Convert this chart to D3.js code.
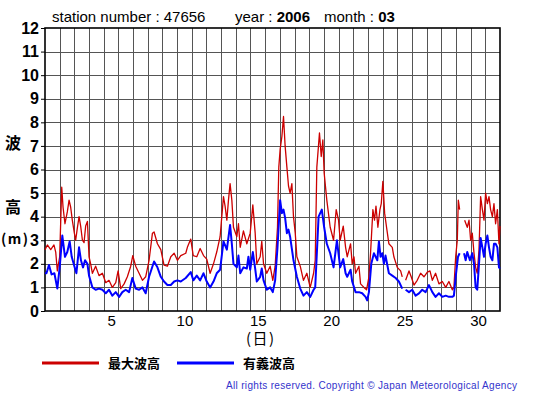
<!DOCTYPE html>
<html lang="ja">
<head>
<meta charset="UTF-8">
<title>波高 47656 2006-03</title>
<script src="https://unpkg.com/d3@7/dist/d3.min.js"></script>
<style>
  body { margin: 0; background: #fff; }
  text { font-family: "Liberation Sans", Arial, sans-serif; }
  .jp { font-family: "Noto Sans CJK JP", sans-serif; }
</style>
</head>
<body>
<script>
// [day of month (0 = start of the 1st), height m] ; null = missing
var maxWave = [
  [0.0,2.6],[0.16,2.8],[0.39,2.6],[0.61,2.8],[0.73,2.5],[0.84,1.7],[1.0,2.3],[1.14,5.25],[1.23,4.4],
  [1.36,3.7],[1.52,4.2],[1.64,4.7],[1.75,4.4],[1.86,3.85],[2.0,3.3],[2.09,3.0],[2.2,3.5],[2.32,4.0],
  [2.43,3.6],[2.55,3.0],[2.66,2.9],[2.77,3.6],[2.89,3.8],[3.0,2.3],[3.11,2.0],[3.23,1.6],[3.45,1.9],
  [3.68,1.5],[3.91,1.6],[4.14,1.2],[4.36,1.3],[4.59,1.0],[4.82,1.2],[4.98,1.7],[5.16,0.95],[5.39,1.15],
  [5.61,1.45],[5.84,1.9],[5.98,2.35],[6.18,1.9],[6.41,1.6],[6.64,1.3],[6.86,1.45],[7.09,2.15],[7.32,3.3],
  [7.43,3.35],[7.66,2.85],[7.89,2.6],[8.11,1.95],[8.34,1.9],[8.57,2.3],[8.8,2.45],[9.02,2.15],[9.25,2.35],
  [9.59,2.45],[9.7,2.7],[9.93,3.05],[10.1,2.35],[10.34,2.3],[10.57,2.65],[10.8,2.35],[11.02,2.2],
  [11.25,1.6],[11.48,2.0],[11.7,2.5],[11.93,3.15],[12.16,4.85],[12.27,4.45],[12.39,3.85],[12.5,4.7],
  [12.61,5.4],[12.73,4.7],[12.84,3.55],[13.07,3.15],[13.18,3.7],[13.3,2.7],[13.52,3.4],[13.75,2.85],
  [13.98,3.3],[14.16,4.5],[14.32,3.3],[14.43,2.0],[14.66,2.3],[14.77,2.95],[14.89,2.0],[15.11,1.6],
  [15.34,1.9],[15.52,1.3],[15.68,1.9],[15.84,3.55],[15.93,6.1],[16.02,6.85],[16.14,7.4],[16.25,8.25],
  [16.36,7.0],[16.48,6.1],[16.59,5.3],[16.7,5.0],[16.82,5.4],[16.93,4.0],[17.05,3.3],[17.16,2.3],
  [17.39,1.9],[17.61,1.3],[17.84,1.6],[18.07,1.0],[18.3,1.6],[18.41,2.15],[18.52,6.1],[18.7,7.55],
  [18.82,6.55],[18.93,7.25],[19.02,5.85],[19.2,4.7],[19.43,3.55],[19.66,3.0],[19.84,4.3],[20.0,3.85],
  [20.11,3.0],[20.32,3.6],[20.48,2.7],[20.59,2.3],[20.82,2.85],[20.93,2.0],[21.05,2.3],[21.16,1.6],
  [21.39,1.9],[21.5,1.15],[21.73,1.0],[21.91,0.9],[22.07,1.45],[22.18,2.45],[22.34,4.3],[22.45,3.85],
  [22.55,4.45],[22.68,3.55],[22.82,4.3],[22.91,4.55],[23.02,5.5],[23.14,4.15],[23.27,3.55],[23.43,2.85],
  [23.66,2.7],[23.77,2.3],[24.0,1.85],[24.23,1.7],[24.34,1.45],[24.45,null],[24.57,1.3],[24.8,1.7],
  [24.95,1.45],[25.14,1.1],[25.36,1.3],[25.59,1.6],[25.82,1.45],[26.05,1.65],[26.23,1.7],[26.39,1.3],
  [26.61,1.6],[26.84,1.15],[27.07,1.25],[27.3,1.0],[27.52,1.25],[27.75,0.9],[27.86,1.0],[27.98,2.3],
  [28.09,3.0],[28.16,4.7],[28.25,4.3],[28.4,null],[28.59,3.85],[28.77,3.55],[28.89,3.85],[29.0,3.0],
  [29.11,3.3],[29.23,2.45],[29.34,1.85],[29.45,1.6],[29.57,2.6],[29.68,4.85],[29.8,4.3],[29.91,3.85],
  [30.02,5.0],[30.14,4.55],[30.25,4.85],[30.36,4.3],[30.48,4.0],[30.59,4.55],[30.7,3.7],[30.82,4.3],
  [30.93,2.85],[31.0,3.6]
];

var sigWave = [
  [0.0,1.6],[0.1,1.6],[0.27,1.95],[0.45,1.55],[0.64,1.6],[0.84,0.95],[1.0,1.85],[1.18,3.2],[1.36,2.3],
  [1.52,2.5],[1.68,2.95],[1.82,2.3],[2.0,1.9],[2.14,1.6],[2.32,2.7],[2.45,2.15],[2.59,1.85],[2.73,2.15],
  [2.89,2.0],[3.0,1.5],[3.23,1.0],[3.45,0.9],[3.68,0.95],[3.91,0.9],[4.14,0.75],[4.36,0.9],[4.59,0.65],
  [4.82,0.8],[5.05,0.6],[5.27,0.8],[5.5,0.9],[5.73,0.8],[5.95,1.4],[6.18,0.95],[6.41,0.9],[6.64,1.0],
  [6.86,0.75],[7.09,1.45],[7.43,2.1],[7.66,1.85],[7.89,1.45],[8.11,1.25],[8.34,1.1],[8.57,1.1],[8.8,1.25],
  [9.02,1.3],[9.25,1.25],[9.59,1.4],[9.93,1.65],[10.11,1.3],[10.34,1.5],[10.57,1.3],[10.8,1.6],
  [11.02,1.25],[11.25,1.0],[11.48,1.25],[11.7,1.6],[11.93,1.75],[12.16,2.95],[12.39,2.6],[12.61,3.65],
  [12.73,2.85],[12.84,2.0],[13.07,1.85],[13.18,2.35],[13.3,1.6],[13.52,1.85],[13.75,1.8],[13.86,2.3],
  [13.98,1.75],[14.16,2.5],[14.32,1.8],[14.43,1.25],[14.66,1.45],[14.77,1.8],[14.89,1.3],[15.11,0.9],
  [15.34,1.0],[15.52,0.8],[15.68,1.3],[15.84,2.7],[16.02,4.7],[16.14,4.15],[16.25,4.3],[16.36,3.95],
  [16.48,3.3],[16.59,3.45],[16.7,3.15],[16.93,2.15],[17.16,1.45],[17.39,0.95],[17.61,0.65],[17.84,0.8],
  [18.07,0.6],[18.3,0.9],[18.41,1.0],[18.64,4.0],[18.86,4.3],[19.02,3.55],[19.2,2.85],[19.43,2.45],
  [19.66,1.85],[19.89,3.0],[20.11,1.85],[20.32,2.2],[20.48,1.6],[20.59,1.45],[20.82,1.75],[20.93,1.25],
  [21.16,0.8],[21.39,0.8],[21.61,0.75],[21.84,0.6],[21.95,0.45],[22.07,0.8],[22.23,2.0],[22.41,2.45],
  [22.64,2.15],[22.75,2.95],[22.86,2.3],[22.98,2.45],[23.09,2.0],[23.2,2.35],[23.43,1.6],[23.66,1.5],
  [23.89,1.4],[24.11,1.25],[24.34,0.95],[24.45,null],[24.57,0.9],[24.8,0.8],[25.02,0.9],[25.25,0.65],
  [25.48,0.75],[25.7,0.9],[25.93,0.8],[26.16,1.1],[26.39,0.8],[26.61,0.6],[26.84,0.75],[27.07,0.6],
  [27.3,0.65],[27.52,0.6],[27.75,0.6],[27.86,0.65],[27.98,1.45],[28.14,2.3],[28.25,2.45],[28.4,null],
  [28.55,2.45],[28.66,2.15],[28.77,2.5],[28.95,2.15],[29.11,2.45],[29.23,2.0],[29.34,1.0],[29.45,0.9],
  [29.57,2.0],[29.68,3.1],[29.8,2.7],[29.91,2.3],[30.02,2.85],[30.14,3.2],[30.25,2.7],[30.36,2.3],
  [30.48,2.15],[30.59,2.85],[30.7,2.85],[30.82,2.7],[30.93,1.85],[31.0,1.8]
];

var dayLabels = [5, 10, 15, 20, 25, 30];
var yTicks = d3.range(0, 13);
var legendNames = ["最大波高", "有義波高"];

var W = 555, H = 395;
var svg = d3.select("body").append("svg")
  .attr("width", W).attr("height", H);

var x = d3.scaleLinear().domain([0, 31]).range([45, 500]);
var y = d3.scaleLinear().domain([0, 12]).range([311, 28]);

// grid
var grid = svg.append("g").attr("stroke", "#555").attr("stroke-width", 1);
grid.selectAll(".v").data(d3.range(1, 31)).enter().append("line")
  .attr("x1", d => Math.round(x(d)) + 0.5).attr("x2", d => Math.round(x(d)) + 0.5)
  .attr("y1", y(12)).attr("y2", y(0));
grid.selectAll(".h").data(yTicks.slice(1, 12)).enter().append("line")
  .attr("x1", x(0)).attr("x2", x(31))
  .attr("y1", d => Math.round(y(d)) + 0.5).attr("y2", d => Math.round(y(d)) + 0.5);

// y axis ticks and labels
var yAxis = svg.append("g").attr("transform", "translate(" + x(0) + ",0)")
  .call(d3.axisLeft(y).tickValues(yTicks).tickSize(4).tickPadding(2));
yAxis.select(".domain").remove();
yAxis.selectAll("line").attr("stroke", "#000");
yAxis.selectAll("text").attr("font-size", 16).attr("font-weight", "bold")
  .attr("font-family", "Liberation Sans, Arial, sans-serif").attr("fill", "#000");

// x labels, placed at the middle of the day
var xAxis = svg.append("g").attr("transform", "translate(0," + y(0) + ")")
  .call(d3.axisBottom(x).tickValues(dayLabels.map(d => d - 0.5))
    .tickFormat((d, i) => dayLabels[i]).tickSize(0).tickPadding(4));
xAxis.select(".domain").remove();
xAxis.selectAll("text").attr("font-size", 15)
  .attr("font-family", "Liberation Sans, Arial, sans-serif").attr("fill", "#000");

// frame
svg.append("rect")
  .attr("x", x(0)).attr("y", y(12))
  .attr("width", x(31) - x(0)).attr("height", y(0) - y(12))
  .attr("fill", "none").attr("stroke", "#000").attr("stroke-width", 1.6);

// series
var line = d3.line()
  .defined(d => d[1] != null)
  .x(d => x(d[0])).y(d => y(d[1]));

svg.append("path").datum(maxWave)
  .attr("d", line).attr("fill", "none")
  .attr("stroke", "#cc0000").attr("stroke-width", 1.3).attr("stroke-linejoin", "round");

svg.append("path").datum(sigWave)
  .attr("d", line).attr("fill", "none")
  .attr("stroke", "#0000ff").attr("stroke-width", 2).attr("stroke-linejoin", "round");

// header
var head = svg.append("text").attr("y", 22).attr("font-size", 15).attr("fill", "#000");
head.append("tspan").attr("x", 52).text("station number : ");
head.append("tspan").text("47656");
var head2 = svg.append("text").attr("y", 22).attr("font-size", 15).attr("fill", "#000");
head2.append("tspan").attr("x", 235).text("year : ");
head2.append("tspan").attr("font-weight", "bold").text("2006");
var head3 = svg.append("text").attr("y", 22).attr("font-size", 15).attr("fill", "#000");
head3.append("tspan").attr("x", 324).text("month : ");
head3.append("tspan").attr("font-weight", "bold").text("03");

// axis titles
svg.append("text").attr("class", "jp").attr("x", 13).attr("y", 149)
  .attr("text-anchor", "middle").attr("font-size", 16).attr("font-weight", "bold").text("波");
svg.append("text").attr("class", "jp").attr("x", 13).attr("y", 213)
  .attr("text-anchor", "middle").attr("font-size", 16).attr("font-weight", "bold").text("高");
svg.append("text").attr("class", "jp").attr("x", 1).attr("y", 244)
  .attr("font-size", 14).attr("font-weight", "bold").attr("letter-spacing", 1.5).text("(m)");
svg.append("text").attr("class", "jp").attr("x", 246).attr("y", 344)
  .attr("font-size", 15).attr("letter-spacing", 1.5).text("(日)");

// legend
var legColors = ["#cc0000", "#0000ff"];
var legX = [42, 177];
legendNames.forEach(function (name, i) {
  svg.append("line").attr("x1", legX[i]).attr("x2", legX[i] + 57)
    .attr("y1", 363).attr("y2", 363)
    .attr("stroke", legColors[i]).attr("stroke-width", 3);
  svg.append("text").attr("class", "jp").attr("x", legX[i] + 66).attr("y", 368)
    .attr("font-size", 13).attr("font-weight", "bold").attr("fill", "#000").text(name);
});

svg.append("text").attr("x", 226).attr("y", 389)
  .attr("font-size", 10).attr("fill", "#3333cc")
  .attr("textLength", 291).attr("lengthAdjust", "spacing")
  .text("All rights reserved. Copyright © Japan Meteorological Agency");
</script>
</body>
</html>
